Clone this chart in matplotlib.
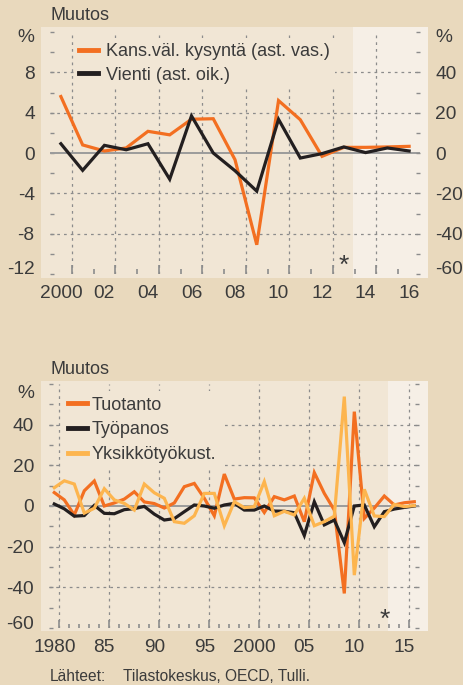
import matplotlib
matplotlib.use("Agg")
import matplotlib.pyplot as plt
from matplotlib.patches import Rectangle
from matplotlib.lines import Line2D
from matplotlib.ticker import MultipleLocator, FixedLocator
from matplotlib.transforms import ScaledTranslation

# ---------------- data ----------------
years_top = list(range(2000, 2017))
demand = [5.6, 0.8, 0.2, 0.5, 2.15, 1.8, 3.35, 3.4, -0.66, -9.1, 5.2, 3.3,
          -0.33, 0.56, 0.56, 0.6, 0.66]
exports = [4.6, -8.6, 3.8, 1.6, 4.6, -13.0, 18.4, 0.0, -8.8, -18.9, 16.7, -2.5,
           -0.3, 3.0, 0.2, 2.5, 1.0]

years_bottom = list(range(1980, 2017))
output = [6.6, 3.0, -4.4, 7.5, 12.3, 0.0, 1.5, 3.4, 7.0, 2.0, 1.2, -1.0, 1.5,
          9.5, 11.1, 3.8, -4.8, 15.7, 3.4, 4.1, 4.0, -3.2, 4.6, 3.0, 4.9, -7.7,
          16.4, 6.2, -2.0, -43.0, 46.4, -6.1, -1.0, 4.9, 0.5, 1.6, 2.1]
labour = [1.0, -1.4, -5.0, -4.7, 0.3, -3.6, -3.8, -1.8, -1.3, -0.2, -4.0, -6.9,
          -6.2, -2.8, 0.5, 0.0, -1.1, 0.5, 1.3, -2.0, -2.0, 0.0, -2.5, -2.6,
          -3.3, -14.5, 2.1, -9.3, -6.9, -18.0, 0.0, 0.5, -10.2, -2.8, -1.5,
          -0.7, 0.0]
ulc = [9.0, 12.4, 10.8, -3.5, -1.1, 8.5, 3.0, 1.3, -2.0, 10.8, 6.5, 3.8, -7.7,
       -8.5, -4.8, 6.2, 6.2, -9.7, 2.1, -0.8, -0.3, 12.0, -4.8, -2.6, -4.4,
       3.8, -9.7, -7.7, -5.0, 53.8, -34.0, 8.2, -4.9, -5.2, 0.8, -0.3, 0.2]

top_label_years = [2000, 2002, 2004, 2006, 2008, 2010, 2012, 2014, 2016]
top_labels = ["2000", "02", "04", "06", "08", "10", "12", "14", "16"]
top_grid_x = [2000.5, 2002.5, 2004.5, 2006.5, 2008.5, 2010.5, 2012.5, 2014.5]
top_left_ticks = [-12, -8, -4, 0, 4, 8, 12]
top_left_labels = ["-12", "-8", "-4", "0", "4", "8", "%"]
top_right_ticks = [-60, -40, -20, 0, 20, 40, 60]
top_right_labels = ["-60", "-40", "-20", "0", "20", "40", "%"]

bottom_label_years = [1980, 1985, 1990, 1995, 2000, 2005, 2010, 2015]
bottom_labels = ["1980", "85", "90", "95", "2000", "05", "10", "15"]
bottom_grid_x = [1980.5, 1985.5, 1990.5, 1995.5, 2000.5, 2005.5, 2010.5, 2015.5]
bottom_left_ticks = [-60, -40, -20, 0, 20, 40, 60]
bottom_left_labels = ["-60", "-40", "-20", "0", "20", "40", "%"]

forecast_start = 2013.4
forecast_mark = 2013

# ---------------- style ----------------
BG = "#E9D9BD"
PLOT_BG = "#F1E6D5"
FORECAST_BG = "#F6EFE6"
ORANGE = "#F36F21"
BLACK = "#231F20"
YELLOW = "#FDB54E"
GRID = "#8C8C8C"
ZERO = "#9B9B9B"
TEXT = "#3B3B3B"
TICK_FS = 13.8
LEG_FS = 13

plt.rcParams['font.family'] = ['Liberation Sans', 'DejaVu Sans']
plt.rcParams['text.color'] = TEXT

W, H = 463, 685
fig = plt.figure(figsize=(W / 100, H / 100), dpi=100, facecolor=BG)


def fig_rect(x0, y0, x1, y1):
    return (x0 / W, 1 - y1 / H, (x1 - x0) / W, (y1 - y0) / H)


def add_bg(x0, y0, x1, y1, color, z):
    l, b, w, h = fig_rect(x0, y0, x1, y1)
    fig.add_artist(Rectangle((l, b), w, h, transform=fig.transFigure,
                             facecolor=color, edgecolor='none', zorder=z))


def nudge_end_labels(ax, top_px, bottom_px):
    labs = ax.get_yticklabels()
    labs[0].set_transform(labs[0].get_transform() +
                          ScaledTranslation(0, bottom_px / 100, fig.dpi_scale_trans))
    labs[-1].set_transform(labs[-1].get_transform() +
                           ScaledTranslation(0, -top_px / 100, fig.dpi_scale_trans))


def style_axes(ax, xlim, ylim, grid_x, half_years, yticks, ylabels, ylim_hide,
               xmaj_len, xmin_len, label_years, labels):
    ax.patch.set_visible(False)
    ax.set_xlim(*xlim)
    ax.set_ylim(*ylim)
    for s in ax.spines.values():
        s.set_visible(False)
    ax.set_axisbelow(True)
    ax.xaxis.set_major_locator(FixedLocator(grid_x))
    ax.xaxis.set_minor_locator(FixedLocator(half_years))
    ax.tick_params(axis='x', which='major', direction='in', length=xmaj_len,
                   width=1.2, color=GRID, labelbottom=False)
    ax.tick_params(axis='x', which='minor', direction='in', length=xmin_len,
                   width=1.2, color=GRID)
    ax.set_yticks(yticks, ylabels)
    ax.tick_params(axis='y', which='both', direction='in', length=3.2,
                   width=1.0, color=GRID, pad=11, labelsize=TICK_FS,
                   labelcolor=TEXT, right=True)
    ax.grid(True, which='major', color=GRID, lw=0.9, ls=(0, (2.2, 3.2)))
    for gl, loc in zip(ax.yaxis.get_gridlines(), yticks):
        if loc in ylim_hide:
            gl.set_visible(False)
    ax.axhline(0, color=ZERO, lw=1.4, zorder=1.5)
    sec = ax.secondary_xaxis('bottom')
    sec.set_xticks(label_years, labels)
    sec.tick_params(length=0, pad=8, labelsize=TICK_FS, labelcolor=TEXT)
    for s in sec.spines.values():
        s.set_visible(False)
    return sec


# ================= top chart =================
add_bg(41, 26.7, 428.3, 278, PLOT_BG, -2)
ax1 = fig.add_axes(fig_rect(50, 32, 420, 274))
style_axes(ax1, (1999.5, 2016.5), (-12, 12), top_grid_x,
           [y + 0.5 for y in years_top[:-1]], top_left_ticks, top_left_labels,
           (-12, 0, 12), 6.5, 3.4, top_label_years, top_labels)
ax1.yaxis.set_minor_locator(MultipleLocator(2))
ax1.tick_params(axis='y', labelright=False)
nudge_end_labels(ax1, 3.5, 6.5)

xs = fig.transFigure.inverted().transform(ax1.transData.transform((forecast_start, 0)))[0]
add_bg(xs * W, 26.7, 428.3, 278, FORECAST_BG, -1)

ax2 = ax1.twinx()
ax2.patch.set_visible(False)
for s in ax2.spines.values():
    s.set_visible(False)
ax2.set_ylim(-60, 60)
ax2.set_yticks(top_right_ticks, top_right_labels)
ax2.yaxis.set_minor_locator(MultipleLocator(10))
ax2.tick_params(axis='y', which='both', direction='in', length=3.2, width=1.0,
                color=GRID, pad=11, labelsize=TICK_FS, labelcolor=TEXT)
nudge_end_labels(ax2, 3.5, 6.5)

ax1.plot(years_top, demand, color=ORANGE, lw=2.3, solid_joinstyle='miter', zorder=3)
ax2.plot(years_top, exports, color=BLACK, lw=2.3, solid_joinstyle='miter', zorder=3)
ax1.text(forecast_mark, -11.2, "*", ha='center', va='center', fontsize=19, color=TEXT)

h_top = [Line2D([], [], color=ORANGE, lw=3.5), Line2D([], [], color=BLACK, lw=3.5)]
leg = ax2.legend(h_top, ["Kans.väl. kysyntä (ast. vas.)", "Vienti (ast. oik.)"],
                 loc='upper left', bbox_to_anchor=(0.065, 0.975), frameon=True,
                 facecolor=PLOT_BG, edgecolor='none', framealpha=1, fancybox=False,
                 fontsize=LEG_FS, handlelength=1.0, handletextpad=0.45,
                 labelspacing=0.35, borderpad=0.3, borderaxespad=0)
for t in leg.get_texts():
    t.set_color(TEXT)

fig.text(50 / W, 1 - 16 / H, "Muutos", va='center', ha='left', fontsize=LEG_FS)

# ================= bottom chart =================
add_bg(41, 380.7, 427.7, 630.7, PLOT_BG, -2)
ax3 = fig.add_axes(fig_rect(49.3, 384, 419.3, 628))
style_axes(ax3, (1979.5, 2016.5), (-60, 60), bottom_grid_x,
           [y + 0.5 for y in years_bottom[:-1]], bottom_left_ticks,
           bottom_left_labels, (-60, 0, 60), 5.5, 3.0, bottom_label_years,
           bottom_labels)
ax3.yaxis.set_minor_locator(MultipleLocator(10))
ax3.tick_params(axis='y', labelright=False)
nudge_end_labels(ax3, 7, 5.5)
xs3 = fig.transFigure.inverted().transform(ax3.transData.transform((forecast_start, 0)))[0]
add_bg(xs3 * W, 380.7, 427.7, 630.7, FORECAST_BG, -1)

ax3.plot(years_bottom, output, color=ORANGE, lw=2.3, solid_joinstyle='miter', zorder=3)
ax3.plot(years_bottom, labour, color=BLACK, lw=2.3, solid_joinstyle='miter', zorder=3)
ax3.plot(years_bottom, ulc, color=YELLOW, lw=2.3, solid_joinstyle='miter', zorder=3)
ax3.text(forecast_mark, -56, "*", ha='center', va='center', fontsize=19, color=TEXT)

h_bot = [Line2D([], [], color=ORANGE, lw=3.5), Line2D([], [], color=BLACK, lw=3.5),
         Line2D([], [], color=YELLOW, lw=3.5)]
leg3 = ax3.legend(h_bot, ["Tuotanto", "Työpanos", "Yksikkötyökust."],
                  loc='upper left', bbox_to_anchor=(0.035, 0.97), frameon=True,
                  facecolor=PLOT_BG, edgecolor='none', framealpha=1, fancybox=False,
                  fontsize=LEG_FS, handlelength=1.05, handletextpad=0.3,
                  labelspacing=0.42, borderpad=0.3, borderaxespad=0)
for t in leg3.get_texts():
    t.set_color(TEXT)

fig.text(50 / W, 1 - 370 / H, "Muutos", va='center', ha='left', fontsize=LEG_FS)
fig.text(50 / W, 1 - 676.7 / H, "Lähteet:", va='center', ha='left', fontsize=11.2)
fig.text(122.7 / W, 1 - 676.7 / H, "Tilastokeskus, OECD, Tulli.", va='center',
         ha='left', fontsize=11.2)

fig.savefig("out.png", dpi=100, facecolor=BG)
